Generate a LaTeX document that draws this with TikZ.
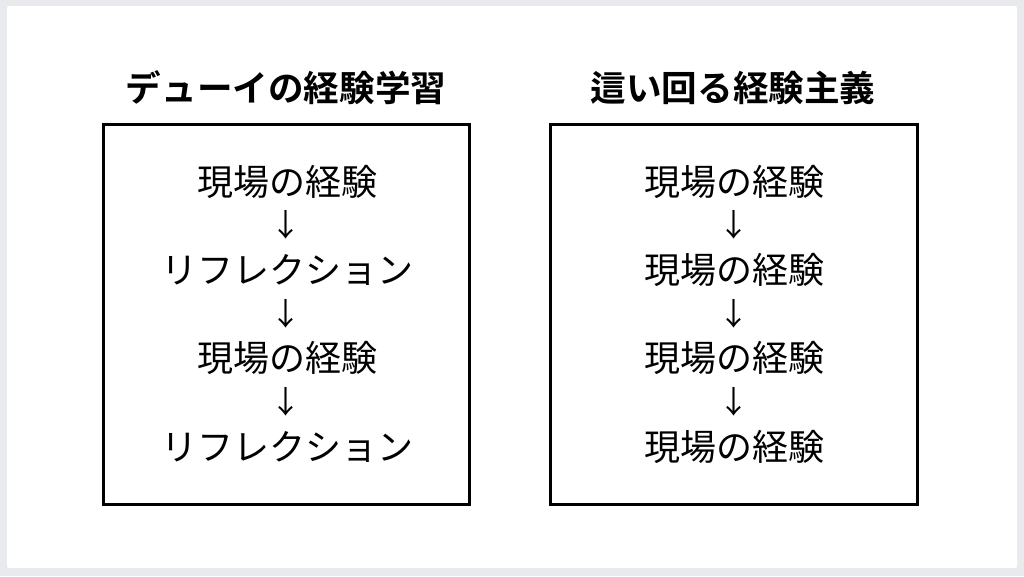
\documentclass[tikz,border=0pt]{standalone}
\usepackage{fontspec}
\newfontfamily\cjk{Noto Sans CJK JP}
\newfontfamily\cjkbold{Noto Sans CJK JP Bold}
\definecolor{frame}{HTML}{E9EAEE}
\begin{document}
\begin{tikzpicture}[x=1pt,y=-1pt,
  title/.style={font=\cjkbold\fontsize{35.6}{40}\selectfont, inner sep=0pt},
  item/.style={font=\cjk\fontsize{36}{40}\selectfont, inner sep=0pt},
  arr/.style={font=\cjk\fontsize{31}{36}\selectfont, inner sep=0pt},
  panel/.style={draw=black, line width=2.6pt}]
\fill[frame] (0,0) rectangle (1024,576);
\fill[white, rounded corners=2pt] (7,6) rectangle (1017,568);
\useasboundingbox (0,0) rectangle (1024,576);
% left panel
\node[title] (lt) at (286,88) {デューイの経験学習};
\draw[panel] (103.5,124.5) rectangle (469.5,504.5);
\node[item] (l1) at (287.5,182) {現場の経験};
\node[arr]  (la1) at (286,225) {↓};
\node[item] (l2) at (287.5,270) {リフレクション};
\node[arr]  (la2) at (286,314) {↓};
\node[item] (l3) at (287.5,358) {現場の経験};
\node[arr]  (la3) at (286,402) {↓};
\node[item] (l4) at (287.5,447) {リフレクション};
% right panel
\node[title] (rt) at (733,88) {這い回る経験主義};
\draw[panel] (550.5,124.5) rectangle (917.5,504.5);
\node[item] (r1) at (734.5,182) {現場の経験};
\node[arr]  (ra1) at (734,225) {↓};
\node[item] (r2) at (734.5,270) {現場の経験};
\node[arr]  (ra2) at (734,314) {↓};
\node[item] (r3) at (734.5,358) {現場の経験};
\node[arr]  (ra3) at (734,402) {↓};
\node[item] (r4) at (734.5,447) {現場の経験};
\end{tikzpicture}
\end{document}
